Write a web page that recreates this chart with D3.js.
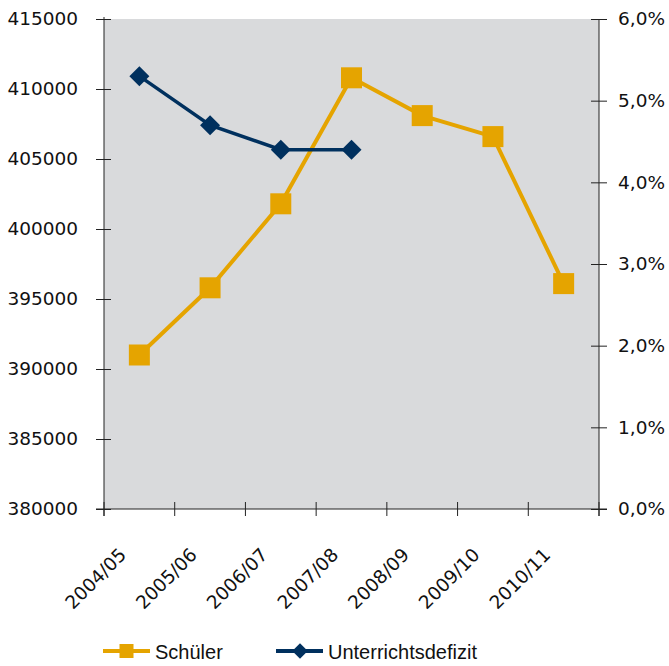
<!DOCTYPE html>
<html>
<head>
<meta charset="utf-8">
<script src="https://cdn.jsdelivr.net/npm/d3@7"></script>
<style>
  body { margin: 0; background: #fff; }
  svg { display: block; }
</style>
</head>
<body>
<div id="chart"></div>
<script>
const years = ["2004/05", "2005/06", "2006/07", "2007/08", "2008/09", "2009/10", "2010/11"];
const schueler = [391000, 395800, 401800, 410800, 408100, 406600, 396100];
const defizit = [5.3, 4.7, 4.4, 4.4];
const leftTicks = [380000, 385000, 390000, 395000, 400000, 405000, 410000, 415000];
const rightTicks = [0, 1, 2, 3, 4, 5, 6];

const margin = { top: 19, right: 70, bottom: 157, left: 104 },
      width = 669 - margin.left - margin.right,
      height = 666 - margin.top - margin.bottom;

const orange = "#e5a400", navy = "#00305e";
const axisFont = "DejaVu Sans";

const svg = d3.select("#chart")
  .append("svg")
  .attr("width", 669)
  .attr("height", 666)
  .append("g")
  .attr("transform", `translate(${margin.left}, ${margin.top})`);

const x = d3.scaleBand().domain(years).range([0, width]);
const yL = d3.scaleLinear().domain([380000, 415000]).range([height, 0]);
const yR = d3.scaleLinear().domain([0, 6]).range([height, 0]);
const cx = d => x(d) + x.bandwidth() / 2;

svg.append("rect")
  .attr("width", width)
  .attr("height", height)
  .attr("fill", "#d9dadc");

// left axis
const gl = svg.append("g")
  .call(d3.axisLeft(yL).tickValues(leftTicks).tickSize(7).tickPadding(19).tickFormat(d3.format("d")));
gl.selectAll(".tick line").attr("x2", -8).attr("x1", 7);

// right axis
const gr = svg.append("g")
  .attr("transform", `translate(${width}, 0)`)
  .call(d3.axisRight(yR).tickValues(rightTicks).tickSize(7).tickPadding(12)
    .tickFormat(d => d3.format(".1f")(d).replace(".", ",") + "%"));
gr.selectAll(".tick line").attr("x1", -8).attr("x2", 8);

// bottom axis, ticks at category boundaries
const gb = svg.append("g")
  .attr("transform", `translate(0, ${height})`);
gb.append("line").attr("x1", -8).attr("x2", width + 8).attr("stroke", "#222");
const bounds = years.map(d => x(d)).concat([width]);
gb.selectAll(".btick")
  .data(bounds)
  .enter()
  .append("line")
  .attr("x1", d => d).attr("x2", d => d)
  .attr("y1", -7).attr("y2", 7)
  .attr("stroke", "#222");
gb.selectAll(".xlabel")
  .data(years)
  .enter()
  .append("text")
  .attr("transform", d => `translate(${cx(d) - 12}, 47) rotate(-45)`)
  .attr("text-anchor", "end")
  .attr("font-family", axisFont)
  .attr("font-size", 18.5)
  .attr("fill", "#111")
  .text(d => d);

[gl, gr].forEach(g => {
  g.select(".domain").attr("stroke", "#222");
  g.selectAll(".tick line").attr("stroke", "#222");
  g.selectAll("text").attr("font-family", axisFont).attr("font-size", 18.5).attr("fill", "#111");
});
gl.select(".domain").attr("d", `M0,-2V${height + 7}`);
gr.select(".domain").attr("d", `M0,0V${height + 7}`);

// Schüler
svg.append("path")
  .datum(schueler)
  .attr("fill", "none")
  .attr("stroke", orange)
  .attr("stroke-width", 4)
  .attr("d", d3.line().x((d, i) => cx(years[i])).y(d => yL(d)));

svg.selectAll(".sq")
  .data(schueler)
  .enter()
  .append("rect")
  .attr("x", (d, i) => cx(years[i]) - 10.5)
  .attr("y", d => yL(d) - 10.5)
  .attr("width", 21)
  .attr("height", 21)
  .attr("fill", orange);

// Unterrichtsdefizit
svg.append("path")
  .datum(defizit)
  .attr("fill", "none")
  .attr("stroke", navy)
  .attr("stroke-width", 3.5)
  .attr("d", d3.line().x((d, i) => cx(years[i])).y(d => yR(d)));

const diamond = d3.symbol().type(d3.symbolSquare).size(200);
svg.selectAll(".dm")
  .data(defizit)
  .enter()
  .append("path")
  .attr("transform", (d, i) => `translate(${cx(years[i])}, ${yR(d)}) rotate(45)`)
  .attr("d", diamond)
  .attr("fill", navy);

// legend
const legend = d3.select("svg").append("g");
const items = [
  { label: "Schüler", color: orange, x: 103, marker: "square" },
  { label: "Unterrichtsdefizit", color: navy, x: 276, marker: "diamond" }
];
items.forEach(it => {
  const g = legend.append("g").attr("transform", `translate(${it.x}, 651)`);
  g.append("line").attr("x1", 0).attr("x2", 47).attr("stroke", it.color).attr("stroke-width", 4);
  if (it.marker === "square") {
    g.append("rect").attr("x", 16.5).attr("y", -7).attr("width", 14).attr("height", 14).attr("fill", it.color);
  } else {
    g.append("path").attr("transform", "translate(24, 0) rotate(45)")
      .attr("d", d3.symbol().type(d3.symbolSquare).size(120)).attr("fill", it.color);
  }
  g.append("text")
    .attr("x", 52)
    .attr("y", 8)
    .attr("font-family", "Liberation Sans, Arial, sans-serif")
    .attr("font-size", 20)
    .attr("fill", "#111")
    .text(it.label);
});
</script>
</body>
</html>
